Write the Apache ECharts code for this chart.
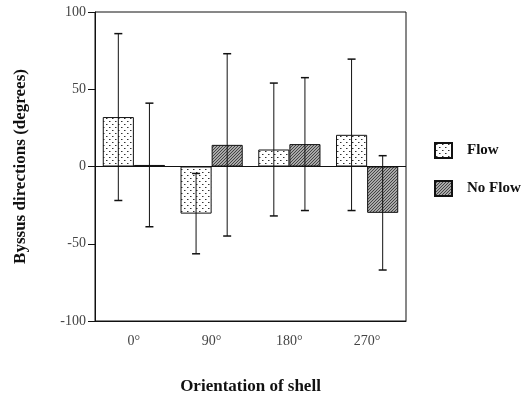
<!DOCTYPE html>
<html>
<head>
<meta charset="utf-8">
<script src="https://cdn.jsdelivr.net/npm/echarts@6/dist/echarts.min.js"></script>
<style>
  html, body { margin: 0; padding: 0; background: #fff; }
  #chart { width: 531px; height: 398px; }
</style>
</head>
<body>
<div id="chart"></div>
<script>
// data
const categories = ['0°', '90°', '180°', '270°']
const flowMean = [32, -30.5, 11, 20.5]
const flowErr = [54, 26, 43, 49]
const noFlowMean = [1, 14, 14.5, -30]
const noFlowErr = [40, 59, 43, 37]
const yTicks = [-100, -50, 0, 50, 100]

const serif = '"Liberation Serif", "DejaVu Serif", serif'

// fill patterns
const makePattern = (kind) => {
  const c = document.createElement('canvas')
  c.width = 6
  c.height = 6
  const ctx = c.getContext('2d')
  if (kind === 'dots') {
    ctx.fillStyle = '#ffffff'
    ctx.fillRect(0, 0, 6, 6)
    ctx.fillStyle = '#333'
    ctx.fillRect(1, 1, 1, 1)
    ctx.fillRect(4, 4, 1, 1)
    ctx.fillStyle = '#999'
    ctx.fillRect(2, 1, 1, 1)
    ctx.fillRect(5, 4, 1, 1)
  } else {
    ctx.fillStyle = '#a8a8a8'
    ctx.fillRect(0, 0, 6, 6)
    ctx.strokeStyle = '#444'
    ctx.lineWidth = 1
    ctx.beginPath()
    for (let k = -6; k <= 12; k += 3) {
      ctx.moveTo(k, 6)
      ctx.lineTo(k + 6, 0)
    }
    ctx.stroke()
  }
  return c
}
const dotFill = { image: makePattern('dots'), repeat: 'repeat' }
const hatchFill = { image: makePattern('hatch'), repeat: 'repeat' }

const errData = (means, errs) => means.map((m, i) => [i, m - errs[i], m + errs[i]])

const errorSeries = (name, means, errs, side) => ({
  type: 'custom',
  name: name + ' err',
  z: 5,
  data: errData(means, errs),
  encode: { x: 0, y: [1, 2] },
  renderItem: (params, api) => {
    const band = api.size([1, 0])[0]
    const barW = band * 0.8 / 2
    const c = api.coord([api.value(0), 0])
    const x = c[0] + side * barW / 2
    const lo = api.coord([api.value(0), api.value(1)])[1]
    const hi = api.coord([api.value(0), api.value(2)])[1]
    const cap = 4
    const st = { stroke: '#111', lineWidth: 1 }
    return {
      type: 'group',
      children: [
        { type: 'line', shape: { x1: x, y1: lo, x2: x, y2: hi }, style: st },
        { type: 'line', shape: { x1: x - cap, y1: hi, x2: x + cap, y2: hi }, style: { stroke: '#111', lineWidth: 1.5 } },
        { type: 'line', shape: { x1: x - cap, y1: lo, x2: x + cap, y2: lo }, style: { stroke: '#111', lineWidth: 1.5 } }
      ]
    }
  }
})

const chart = echarts.init(document.getElementById('chart'))
chart.setOption({
  animation: false,
  backgroundColor: '#fff',
  grid: {
    left: 95,
    right: 125,
    top: 12,
    bottom: 77,
    outerBoundsMode: 'none',
    containLabel: false,
    show: true,
    borderColor: '#111',
    borderWidth: 1
  },
  legend: {
    orient: 'vertical',
    left: 429,
    top: 137,
    itemWidth: 17,
    itemHeight: 15,
    itemGap: 21,
    icon: 'rect',
    data: ['Flow', 'No Flow'],
    textStyle: {
      fontFamily: serif,
      fontWeight: 'bold',
      fontSize: 15,
      color: '#111',
      padding: [0, 0, 0, 10]
    }
  },
  xAxis: {
    type: 'category',
    data: categories,
    name: 'Orientation of shell',
    nameLocation: 'middle',
    nameGap: 57,
    nameTextStyle: { fontFamily: serif, fontWeight: 'bold', fontSize: 17, color: '#111' },
    axisLine: { onZero: false, lineStyle: { color: '#111', width: 1 } },
    axisTick: { alignWithLabel: true, length: 6, lineStyle: { color: '#111' } },
    axisLabel: { fontFamily: serif, fontSize: 14, color: '#444', margin: 13 },
    splitLine: { show: false }
  },
  yAxis: {
    type: 'value',
    min: -100,
    max: 100,
    interval: 50,
    name: 'Byssus directions (degrees)',
    nameLocation: 'middle',
    nameGap: 66,
    nameTextStyle: { fontFamily: serif, fontWeight: 'bold', fontSize: 17, color: '#111' },
    axisLine: { show: true, lineStyle: { color: '#111', width: 1 } },
    axisTick: { show: true, length: 7, lineStyle: { color: '#111' } },
    axisLabel: {
      fontFamily: serif,
      fontSize: 14,
      color: '#444',
      margin: 9,
      formatter: (v) => (yTicks.includes(v) ? String(v) : '')
    },
    splitLine: { show: false }
  },
  series: [
    {
      name: 'Flow',
      type: 'bar',
      data: flowMean,
      barGap: '0%',
      barCategoryGap: '20%',
      itemStyle: { color: dotFill, borderColor: '#111', borderWidth: 1 },
      markLine: {
        silent: true,
        symbol: 'none',
        label: { show: false },
        lineStyle: { color: '#111', type: 'solid', width: 1 },
        data: [{ yAxis: 0 }]
      }
    },
    {
      name: 'No Flow',
      type: 'bar',
      data: noFlowMean,
      barGap: '0%',
      barCategoryGap: '20%',
      itemStyle: { color: hatchFill, borderColor: '#111', borderWidth: 1 }
    },
    errorSeries('Flow', flowMean, flowErr, -1),
    errorSeries('No Flow', noFlowMean, noFlowErr, 1)
  ]
})
</script>
</body>
</html>
